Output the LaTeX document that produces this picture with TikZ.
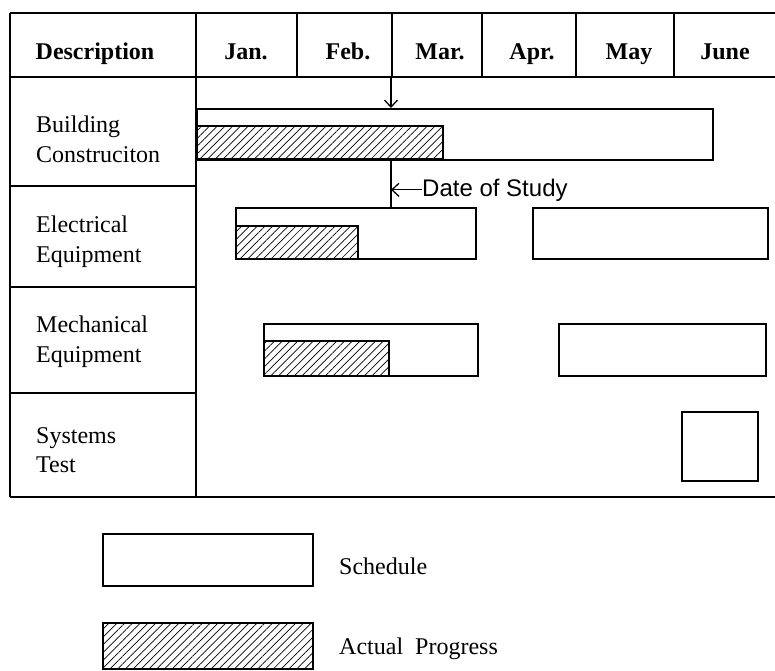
\documentclass[tikz,border=0pt]{standalone}
\usepackage{fontspec}
\setmainfont{Liberation Serif}
\newfontfamily\sansf{Liberation Sans}
\usetikzlibrary{patterns.meta,arrows.meta}
\begin{document}
\begin{tikzpicture}[x=1pt,y=-1pt,
  gridline/.style={line width=1.8pt},
  bar/.style={draw,line width=2.2pt,rectangle,inner sep=0pt,anchor=north west},
  hatch/.style={bar,pattern={Lines[angle=45,distance=5.5pt,line width=0.7pt]}},
  hdr/.style={font=\fontsize{24}{28}\selectfont\bfseries,inner sep=0pt,anchor=base},
  lbl/.style={font=\fontsize{24}{30}\selectfont,anchor=base west,inner sep=0pt},
  leg/.style={font=\fontsize{24}{30}\selectfont,anchor=base west,inner sep=0pt},
  datearrow/.style={line width=1.3pt,-{Straight Barb[length=7pt,width=13pt]}},
]
\useasboundingbox (0,0) rectangle (775,670);

% table grid
\draw[gridline] (10,13) -- (775,13);
\draw[gridline] (10,77) -- (775,77);
\draw[gridline] (10,497) -- (775,497);
\draw[gridline] (10,13) -- (10,497);
\draw[gridline] (196,13) -- (196,497);
\foreach \x in {297,392,482,576,674} \draw[gridline] (\x,13) -- (\x,77);
\foreach \y in {186,287,393} \draw[gridline] (10,\y) -- (196,\y);

% header
\node[hdr] (hdesc) at (95,59) {Description};
\node[hdr] (hjan) at (246,59) {Jan.};
\node[hdr] (hfeb) at (348,59) {Feb.};
\node[hdr] (hmar) at (440,59) {Mar.};
\node[hdr] (hapr) at (532,59) {Apr.};
\node[hdr] (hmay) at (629,59) {May};
\node[hdr] (hjun) at (725,59) {June};

% row labels
\node[lbl] (l1a) at (36,132) {Building};
\node[lbl] (l1b) at (36,162) {Construciton};
\node[lbl] (l2a) at (36,232) {Electrical};
\node[lbl] (l2b) at (36,262) {Equipment};
\node[lbl] (l3a) at (36,332) {Mechanical};
\node[lbl] (l3b) at (36,362) {Equipment};
\node[lbl] (l4a) at (36,443) {Systems};
\node[lbl] (l4b) at (36,472) {Test};

% bars
\node[bar,minimum width=516pt,minimum height=51pt] (bcS) at (196,108) {};
\node[hatch,minimum width=247pt,minimum height=33pt] (bcA) at (196,126) {};
\node[bar,minimum width=240pt,minimum height=51pt] (elS) at (235,207) {};
\node[hatch,minimum width=122pt,minimum height=33pt] (elA) at (235,225) {};
\node[bar,minimum width=235pt,minimum height=51pt] (elS2) at (532,207) {};
\node[bar,minimum width=214pt,minimum height=52pt] (meS) at (263,323) {};
\node[hatch,minimum width=125pt,minimum height=35pt] (meA) at (263,340) {};
\node[bar,minimum width=207pt,minimum height=52pt] (meS2) at (558,323) {};
\node[bar,minimum width=76pt,minimum height=69pt] (syS) at (681,411) {};

% date of study
\coordinate (d0) at (391,77);
\draw[datearrow] (d0) -- (d0 |- bcS.north);
\draw[line width=2pt] (d0 |- bcS.south) -- (d0 |- elS.north);
\node[font=\sansf\fontsize{24}{28}\selectfont,anchor=base west,inner sep=0pt] (dos) at (422,196) {Date of Study};
\draw[datearrow] (dos.west) -- (dos.west -| d0);

% legend
\node[bar,minimum width=210pt,minimum height=52pt] (legS) at (102,533) {};
\node[hatch,minimum width=210pt,minimum height=46pt] (legA) at (102,622) {};
\node[leg] (legSt) at (339,574) {Schedule};
\node[leg] (legAt) at (339,654) {Actual\ \ Progress};
\end{tikzpicture}
\end{document}
